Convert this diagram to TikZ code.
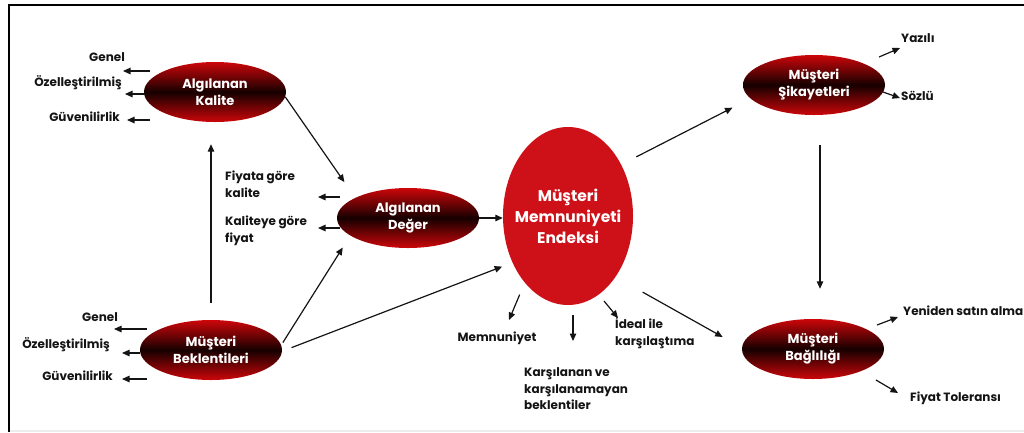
\documentclass[tikz,border=0pt]{standalone}
\usepackage{fontspec}
\setmainfont{Poppins}
\usetikzlibrary{arrows.meta,shapes.geometric,calc}

\definecolor{ovalred}{RGB}{204,6,10}
\definecolor{ovaldark}{RGB}{22,0,0}
\definecolor{bigred}{RGB}{206,17,24}
\definecolor{ink}{RGB}{20,20,20}

\begin{document}
\begin{tikzpicture}[x=1pt,y=-1pt,
  oval/.style={ellipse, inner sep=0pt, minimum width=142pt, minimum height=60pt,
    top color=ovalred, bottom color=ovalred, middle color=ovaldark,
    text=white, align=center, font=\fontsize{13}{17}\selectfont\bfseries},
  bigoval/.style={ellipse, inner sep=0pt, minimum width=130pt, minimum height=178pt,
    fill=bigred},
  bigtext/.style={text=white, align=center, inner sep=0pt,
    font=\fontsize{15.5}{21}\selectfont\bfseries},
  lab/.style={inner sep=0pt, text=ink, align=left,
    font=\fontsize{12}{16.5}\selectfont\bfseries},
  arr/.style={-{Triangle[length=7.5pt,width=6.5pt]}, line width=1.2pt, draw=ink},
  rule/.style={line width=2pt, draw=black}
]
\useasboundingbox (0,0) rectangle (1024,432);

% page frame
\draw[rule] (1024,5) -- (9,5) -- (9,432);
\draw[black!7, line width=2pt] (10,431) -- (1024,431);

% main ovals
\node[oval] (kalite) at (215,92) {Algılanan\\Kalite};
\node[oval] (deger) at (408,218) {Algılanan\\Değer};
\node[oval] (bekl) at (211,350) {Müşteri\\Beklentileri};
\node[oval] (sikayet) at (814,85) {Müşteri\\Şikayetleri};
\node[oval] (bag) at (813,349) {Müşteri\\Bağlılığı};
\node[bigoval] (endeksi) at (568,216) {};
\node[bigtext] (endeksiT) at (endeksi.center) {Müşteri\\Memnuniyeti\\Endeksi};

% dimensions of perceived quality
\node[lab, anchor=east] (genelK) at (125,57) {Genel};
\node[lab, anchor=east] (ozelK) at (122,83) {Özelleştirilmiş};
\node[lab, anchor=east] (guvK) at (120,117) {Güvenilirlik};
\coordinate (gK) at (150,71);
\coordinate (oK) at (145,94);
\coordinate (vK) at (150,120);
\draw[arr, shorten >=-2pt] (gK) -- (gK -| genelK.east);
\draw[arr, shorten >=3pt] (oK) -- (oK -| ozelK.east);
\draw[arr, shorten >=7pt] (vK) -- (vK -| guvK.east);

% dimensions of customer expectations
\node[lab, anchor=east] (genelB) at (118,317) {Genel};
\node[lab, anchor=east] (ozelB) at (110,345) {Özelleştirilmiş};
\node[lab, anchor=east] (guvB) at (113,376) {Güvenilirlik};
\coordinate (gB) at (147,329);
\coordinate (oB) at (140,353);
\coordinate (vB) at (147,379);
\draw[arr, shorten >=-4pt] (gB) -- (gB -| genelB.east);
\draw[arr, shorten >=12pt] (oB) -- (oB -| ozelB.east);
\draw[arr, shorten >=9pt] (vB) -- (vB -| guvB.east);

% dimensions of perceived value
\node[lab, anchor=west] (fiyata) at (225,184) {Fiyata göre\\kalite};
\node[lab, anchor=west] (kaliteye) at (225,231) {Kaliteye göre\\fiyat};
\coordinate (fD) at (340,197);
\coordinate (kD) at (340,228);
\draw[arr] (fD) -- (318,197);
\draw[arr] (kD) -- (318,228);

% flows between the ovals
\draw[arr, shorten >=19pt] (kalite.-4) -- (deger.159);
\draw[arr, shorten <=3pt, shorten >=14pt] (bekl.4) -- (deger.197);
\draw[arr, shorten <=10pt, shorten >=11pt] (bekl.-1) -- (endeksi.220);
\draw[arr] (deger.east) -- (deger.east -| endeksi.west);
\draw[arr, shorten <=17pt, shorten >=22pt] (bekl.north) -- (bekl.north |- kalite.south);
\draw[arr, shorten <=17pt, shorten >=20pt] (endeksi.44) -- (sikayet.192);
\draw[arr, shorten <=31pt, shorten >=22pt] (endeksi.-52) -- (bag.179);
\draw[arr, shorten <=30pt, shorten >=30pt] ([xshift=6pt]sikayet.south) -- ([xshift=6pt]sikayet.south |- bag.north);

% outcomes of the satisfaction index
\node[lab] (memn) at (497,338) {Memnuniyet};
\node[lab, anchor=west] (karsi) at (524,389) {Karşılanan ve\\karşılanamayan\\beklentiler};
\node[lab, anchor=west] (ideal) at (615,333) {İdeal ile\\karşılaştıma};
\coordinate (mE) at (509,320);
\coordinate (kS) at (573,315);
\coordinate (kE) at (573,341);
\coordinate (iS) at (604,301);
\coordinate (iE) at (618,318);
\draw[arr, shorten <=13pt] (endeksi.237) -- (mE);
\draw[arr] (kS) -- (kE);
\draw[arr] (iS) -- (iE);

% complaint types
\node[lab, anchor=west] (yazili) at (901,38) {Yazılı};
\node[lab, anchor=west] (sozlu) at (901,96) {Sözlü};
\coordinate (yS) at (879,57);
\coordinate (yE) at (900,48);
\coordinate (sS) at (883,92);
\coordinate (sE) at (900,98);
\draw[arr] (yS) -- (yE);
\draw[arr] (sS) -- (sE);

% loyalty outcomes
\node[lab, anchor=west] (yeniden) at (903,311) {Yeniden satın alma};
\node[lab, anchor=west] (tolerans) at (910,398) {Fiyat Toleransı};
\coordinate (rS) at (877,325);
\coordinate (rE) at (898,317);
\coordinate (tS) at (876,380);
\coordinate (tE) at (898,393);
\draw[arr] (rS) -- (rE);
\draw[arr] (tS) -- (tE);
\end{tikzpicture}
\end{document}
